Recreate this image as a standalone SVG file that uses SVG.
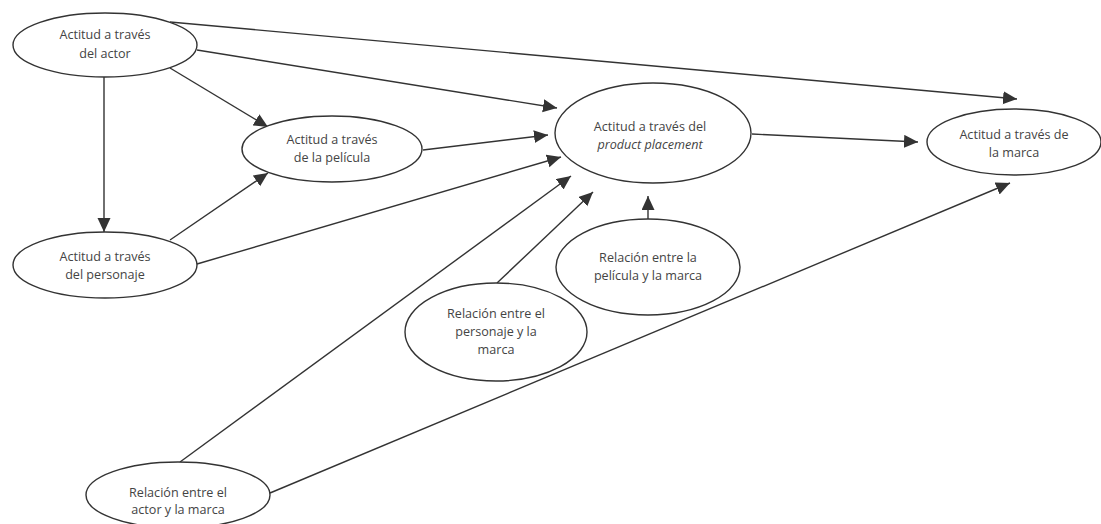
<svg xmlns="http://www.w3.org/2000/svg" width="1101" height="524" viewBox="0 0 1101 524">
<style>
.n ellipse{fill:#fff;stroke:#333;stroke-width:1.4}
.n text{font-family:"Open Sans","Noto Sans",sans-serif;font-size:12.6px;fill:#444;text-anchor:middle}
.e line{stroke:#333;stroke-width:1.4}
</style>
<defs>
<marker id="a" markerUnits="userSpaceOnUse" markerWidth="15" markerHeight="14" refX="14" refY="6.5" orient="auto">
<path d="M0,0 L14,6.5 L0,13 z" fill="#333"/>
</marker>
</defs>
<g class="e" id="connectors">
<line x1="170" y1="22" x2="1017" y2="99" marker-end="url(#a)"/>
<line x1="197" y1="50" x2="557" y2="108" marker-end="url(#a)"/>
<line x1="170" y1="68" x2="268" y2="127" marker-end="url(#a)"/>
<line x1="104" y1="77" x2="104" y2="232" marker-end="url(#a)"/>
<line x1="423" y1="150" x2="548" y2="135" marker-end="url(#a)"/>
<line x1="170" y1="240" x2="268" y2="173" marker-end="url(#a)"/>
<line x1="197" y1="264" x2="561" y2="157" marker-end="url(#a)"/>
<line x1="180" y1="462" x2="571" y2="176" marker-end="url(#a)"/>
<line x1="497" y1="283" x2="593" y2="192" marker-end="url(#a)"/>
<line x1="648" y1="219" x2="648" y2="196" marker-end="url(#a)"/>
<line x1="270" y1="493" x2="1010" y2="183" marker-end="url(#a)"/>
<line x1="752" y1="134" x2="918" y2="142" marker-end="url(#a)"/>
</g>
<g class="n" id="actor">
<ellipse cx="105" cy="45" rx="92" ry="32"/>
<text x="105" y="39">Actitud a través</text>
<text x="105" y="58">del actor</text>
</g>
<g class="n" id="pelicula">
<ellipse cx="332" cy="149" rx="90" ry="33"/>
<text x="332" y="144">Actitud a través</text>
<text x="332" y="162">de la película</text>
</g>
<g class="n" id="pp">
<ellipse cx="653" cy="133" rx="98" ry="50"/>
<text x="650" y="131">Actitud a través del</text>
<text x="650" y="149" font-style="italic">product placement</text>
</g>
<g class="n" id="marca">
<ellipse cx="1014" cy="142" rx="87" ry="33"/>
<text x="1014" y="139">Actitud a través de</text>
<text x="1014" y="157">la marca</text>
</g>
<g class="n" id="personaje">
<ellipse cx="105" cy="265" rx="92" ry="33"/>
<text x="105" y="261">Actitud a través</text>
<text x="105" y="279">del personaje</text>
</g>
<g class="n" id="rel-pelicula">
<ellipse cx="648" cy="267" rx="92" ry="48"/>
<text x="648" y="262">Relación entre la</text>
<text x="648" y="280">película y la marca</text>
</g>
<g class="n" id="rel-personaje">
<ellipse cx="496" cy="332" rx="91" ry="49"/>
<text x="496" y="318">Relación entre el</text>
<text x="496" y="336">personaje y la</text>
<text x="496" y="354">marca</text>
</g>
<g class="n" id="rel-actor">
<ellipse cx="178" cy="495" rx="92" ry="33"/>
<text x="178" y="497">Relación entre el</text>
<text x="178" y="514">actor y la marca</text>
</g>
</svg>
